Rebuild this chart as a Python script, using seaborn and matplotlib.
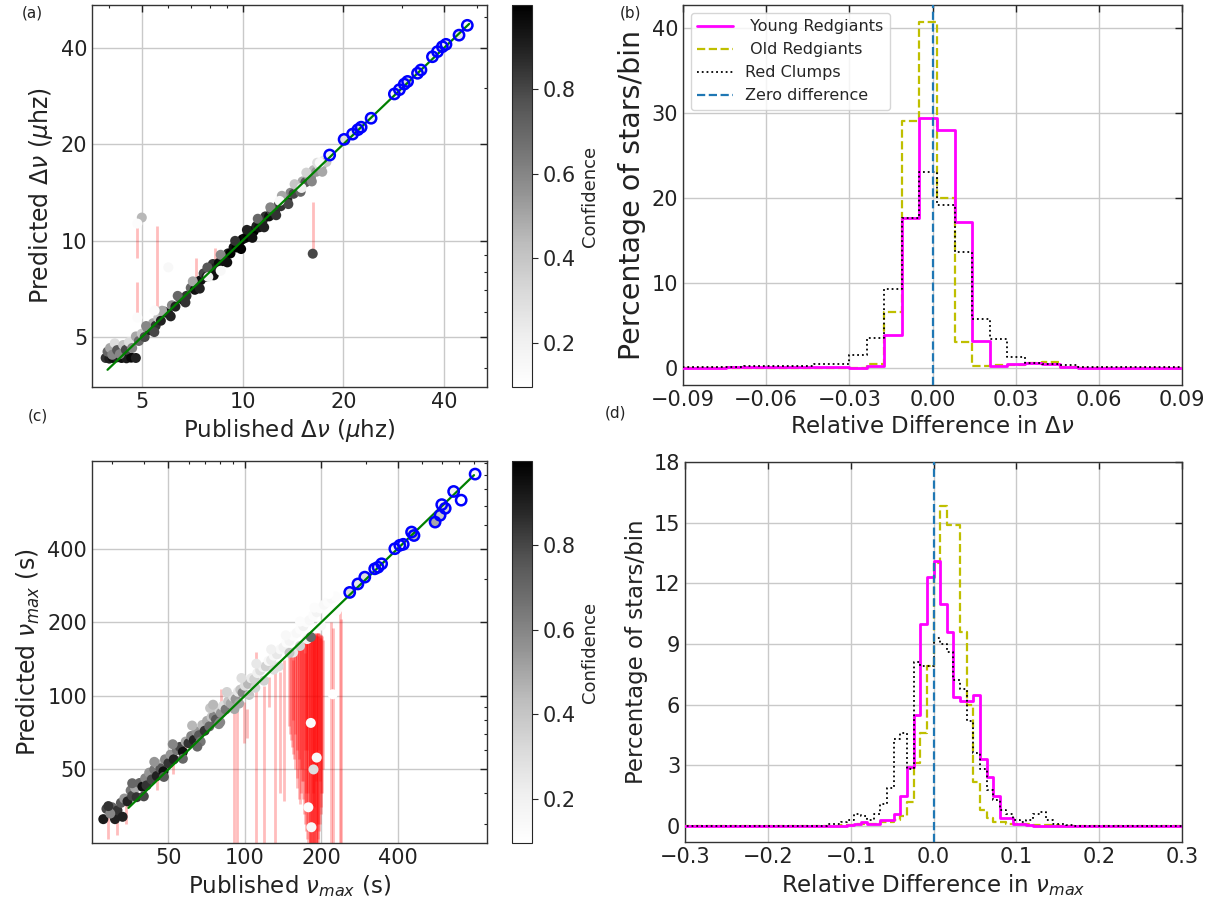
import numpy as np
import pandas as pd
import matplotlib
matplotlib.use("Agg")
import matplotlib.pyplot as plt
import matplotlib.ticker as mticker
from matplotlib.colors import Normalize
from matplotlib.cm import ScalarMappable
from matplotlib.lines import Line2D
import seaborn as sns

sns.set_style("white")
plt.rcParams['font.family'] = ['DejaVu Sans']
plt.rcParams['mathtext.fontset'] = 'dejavusans'

# ---------------- Panel (a): Delta nu ----------------
pub_dnu = [3.90, 4.00, 4.10, 4.22, 4.35, 4.50, 4.65, 4.80,
           3.95, 4.02, 4.08, 4.15, 4.22, 4.30, 4.40, 4.48, 4.58, 4.68, 4.80, 4.90, 5.00,
           5.10, 5.20, 5.30, 5.40, 5.50, 5.60, 5.70, 5.85, 6.00, 6.15, 6.30, 6.50, 6.65, 6.80,
           7.00, 7.20, 7.35, 7.50, 7.65, 7.80, 8.00, 8.15, 8.30,
           8.50, 8.70, 8.90, 9.05, 9.20, 9.40, 9.60, 9.80, 10.0, 10.2, 10.4, 10.6, 10.8, 11.0,
           11.2, 11.5, 11.7, 12.0, 12.2, 12.5, 12.8, 13.0, 13.3, 13.6, 13.9, 14.2, 14.5, 14.8,
           15.1, 15.4, 15.7, 16.0, 16.3, 16.6, 16.9, 17.2, 17.5, 17.8,
           5.15, 5.45, 5.75, 6.10, 6.40, 6.75, 7.10, 7.45, 7.85, 8.20, 8.60, 9.00, 9.50, 9.90,
           10.3, 10.7, 11.1, 11.6, 12.1, 12.6, 13.1, 13.7, 14.3, 14.9, 15.5, 16.1, 16.7, 17.3,
           8.60, 7.90, 12.9, 15.0, 17.0,
           5.00, 4.85, 6.00, 16.2, 4.85, 5.46,
           18.2, 20.1, 21.3, 22.1, 22.6, 24.2, 28.4, 29.4, 30.4, 31.1, 33.3, 34.1, 36.9, 38.2,
           39.5, 40.5, 44.3, 46.9]
pred_dnu = [4.30, 4.28, 4.30, 4.32, 4.30, 4.29, 4.31, 4.30,
            4.50, 4.62, 4.40, 4.78, 4.55, 4.42, 4.72, 4.56, 4.82, 4.62, 5.02, 4.86, 5.12,
            5.00, 5.32, 5.25, 5.52, 5.42, 5.74, 5.62, 6.00, 5.92, 6.28, 6.22, 6.62, 6.52, 6.72,
            7.12, 7.02, 7.45, 7.52, 7.90, 7.70, 8.12, 8.45, 8.22,
            8.52, 8.62, 8.92, 9.12, 9.12, 9.52, 9.52, 9.92, 10.1, 10.2, 10.3, 10.7, 10.7, 11.1,
            11.0, 11.6, 11.9, 11.9, 12.4, 12.4, 12.9, 12.8, 13.5, 13.4, 14.1, 14.0, 14.8, 14.6,
            15.3, 15.2, 16.0, 15.8, 16.6, 16.4, 17.2, 17.0, 17.8, 17.6,
            5.41, 5.18, 6.04, 5.80, 6.72, 6.41, 7.46, 7.08, 8.24, 7.79, 9.03, 8.55, 9.98, 9.41,
            10.8, 10.2, 11.7, 11.0, 12.7, 12.0, 13.8, 13.0, 15.0, 14.2, 16.3, 15.3, 17.5, 16.4,
            8.05, 7.70, 13.3, 14.6, 17.5,
            11.8, 11.3, 8.25, 9.1, 5.75, 6.05,
            18.5, 20.7, 21.5, 22.2, 22.6, 24.1, 28.7, 29.6, 30.8, 31.4, 33.3, 34.1, 37.5, 38.9,
            40.3, 41.0, 43.8, 47.0]
conf_dnu = [0.85, 0.90, 0.95, 0.90, 0.95, 0.92, 0.97, 0.90,
            0.70, 0.50, 0.60, 0.30, 0.75, 0.60, 0.40, 0.80, 0.30, 0.60, 0.50, 0.70, 0.40,
            0.80, 0.60, 0.90, 0.50, 0.85, 0.40, 0.90, 0.70, 0.95, 0.60, 0.90, 0.80, 0.95, 0.85,
            0.70, 0.95, 0.60, 0.95, 0.80, 0.90, 0.95, 0.85, 0.90,
            0.97, 0.95, 0.98, 0.90, 1.00, 0.95, 1.00, 0.95, 1.00, 0.97, 1.00, 0.95, 1.00, 0.90,
            0.95, 0.90, 0.85, 0.95, 0.80, 0.90, 0.75, 0.85, 0.70, 0.90, 0.60, 0.80, 0.60, 0.70,
            0.50, 0.75, 0.55, 0.60, 0.45, 0.55, 0.30, 0.50, 0.25, 0.40,
            0.60, 0.80, 0.50, 0.90, 0.70, 0.85, 0.50, 0.90, 0.75, 0.95, 0.60, 0.95, 0.85, 1.00,
            0.90, 0.95, 0.70, 0.90, 0.60, 0.85, 0.50, 0.80, 0.40, 0.70, 0.35, 0.60, 0.30, 0.50,
            0.15, 0.20, 0.15, 0.20, 0.15,
            0.45, 0.12, 0.15, 0.80, 0.12, 0.13,
            0.20, 0.30, 0.25, 0.20, 0.30, 0.20, 0.15, 0.25, 0.20, 0.30, 0.20, 0.25, 0.20, 0.15,
            0.30, 0.20, 0.25, 0.15]
dnu_err_x = [4.83, 4.83, 5.54, 7.25, 8.25, 16.2]
dnu_err_lo = [8.8, 5.77, 6.05, 7.6, 8.7, 9.1]
dnu_err_hi = [11.0, 7.4, 11.1, 8.8, 9.5, 13.2]
dnu_fit = [3.95, 47.5]

# ---------------- Panel (c): nu_max ----------------
pub_vmax = [27.7, 30.8, 28.5, 30.0, 31.5, 29.5, 32.5, 33.5, 34.5, 35.5, 36.0, 37.0, 37.5, 38.5,
            39.5, 40.5, 41.0, 42.0, 43.0, 44.0, 45.0, 45.5, 46.5, 47.8, 48.5, 50.0, 51.0, 52.5,
            54.0, 55.5, 57.0, 58.5, 60.0, 61.5, 63.0, 64.5, 66.0, 68.0, 69.5, 71.0, 72.5, 74.0,
            75.5, 77.0, 79.0, 80.5, 82.0, 84.0, 86.0, 88.0, 90.0, 92.0, 94.0, 96.0, 98.0, 100.0,
            103.0, 106.0, 109.0, 112.0, 115.0, 118.0, 121.0, 124.0, 127.0, 130.0, 134.0, 138.0,
            142.0, 146.0, 150.0, 155.0, 160.0, 165.0, 170.0, 175.0, 180.0, 186.0, 192.0, 198.0,
            205.0, 212.0, 220.0, 228.0,
            29, 33, 36, 40, 44, 48, 52, 57, 62, 67, 73, 79, 85, 91, 97, 104, 111, 119, 127, 136,
            145, 155, 165, 176, 188, 200, 214, 230,
            75.0, 65.0, 80.0, 95.0, 110.0, 130.0, 182.0, 150.0, 165.0,
            182.0, 192.0, 186.5, 222.0, 178.0, 183.0,
            259, 279, 297, 325, 335, 346, 390, 408, 421, 454, 464, 562, 588, 597, 616, 665, 712, 808]
pred_vmax = [31.3, 31.3, 34.5, 35.0, 34.0, 33.0, 36.5, 38.0, 37.0, 41.0, 39.0, 42.0, 38.5, 44.0,
             42.5, 46.0, 43.0, 48.5, 45.5, 50.0, 47.0, 52.5, 50.5, 49.1, 55.0, 53.0, 57.5, 55.0,
             60.0, 61.8, 59.0, 65.0, 64.0, 68.5, 66.0, 71.5, 69.0, 76.0, 72.0, 79.0, 75.0, 82.0,
             82.5, 80.0, 88.0, 85.0, 91.0, 88.0, 95.0, 93.0, 99.0, 97.0, 104.0, 106.0, 103.0, 110.0,
             112.0, 118.0, 117.0, 124.0, 127.0, 131.0, 132.0, 139.0, 140.0, 146.0, 148.0, 155.0,
             158.0, 165.0, 168.0, 176.0, 181.0, 187.0, 193.0, 200.0, 204.0, 213.0, 220.0, 228.0,
             236.0, 242.0, 250.0, 255.0,
             35.4, 32.0, 43.9, 38.8, 53.7, 46.6, 63.4, 55.3, 75.6, 65.0, 89.1, 76.6, 103.7, 88.3,
             118.3, 100.9, 135.4, 115.4, 154.9, 131.9, 176.9, 150.4, 201.3, 170.7, 229.4, 194.0,
             261.1, 223.1,
             92.0, 62.0, 78.0, 93.0, 108.0, 128.0, 174.0, 150.0, 160.0,
             77.5, 55.9, 50.0, 101.5, 35.0, 29.0,
             265, 287, 306, 331, 336, 347, 400, 413, 417, 468, 453, 514, 548, 606, 585, 686, 632, 808]
conf_vmax = [0.92, 0.90, 0.80, 0.70, 0.85, 0.60, 0.75, 0.55, 0.90, 0.65,
             0.80, 0.50, 0.85, 0.70, 0.95, 0.60, 0.85, 0.55, 0.80, 0.65,
             0.90, 0.45, 0.75, 0.95, 0.60, 0.85, 0.55, 0.90, 0.65, 0.80,
             0.95, 0.50, 0.85, 0.60, 0.90, 0.55, 0.75, 0.45, 0.85, 0.50,
             0.70, 0.40, 0.60, 0.75, 0.35, 0.55, 0.30, 0.65, 0.40, 0.50,
             0.30, 0.55, 0.25, 0.40, 0.60, 0.30, 0.45, 0.25, 0.35, 0.20,
             0.30, 0.20, 0.35, 0.15, 0.25, 0.15, 0.25, 0.15, 0.20, 0.12,
             0.18, 0.12, 0.15, 0.12, 0.20, 0.12, 0.15, 0.12, 0.18, 0.12,
             0.15, 0.12, 0.15, 0.12,
             0.85, 0.90, 0.70, 0.80, 0.55, 0.75, 0.60, 0.70, 0.45, 0.65, 0.40, 0.60, 0.35, 0.50,
             0.30, 0.40, 0.25, 0.35, 0.20, 0.30, 0.15, 0.25, 0.12, 0.20, 0.12, 0.15, 0.10, 0.12,
             0.45, 0.70, 0.60, 0.50, 0.35, 0.30, 0.70, 0.40, 0.35,
             0.12, 0.15, 0.30, 0.10, 0.12, 0.15,
             0.30, 0.25, 0.30, 0.20, 0.25, 0.20, 0.20, 0.25, 0.20, 0.30, 0.45, 0.50, 0.40, 0.20,
             0.35, 0.20, 0.10, 0.15]
vmax_err_x = [29, 31.5, 34, 45, 52, 58, 80.5, 91, 93.5, 99, 102, 111, 119, 124, 132, 137, 143,
              149, 150, 152, 153, 155, 156, 158, 160, 161, 163, 165, 166, 168, 170, 171, 173, 175,
              176, 178, 180, 181, 183, 185, 186, 188, 190, 191, 193, 195, 196, 198, 200, 202, 204,
              155, 160, 165, 170, 175, 180, 185, 190, 195, 200, 172, 178, 184, 188, 192, 197,
              158, 163, 168, 174, 177, 182, 187, 189, 194, 199, 176, 186, 191, 181, 196,
              219, 222, 237, 239]
vmax_err_lo = [26, 27, 30, 41, 48, 54, 79.6, 20, 20, 64, 67, 20, 20, 90, 20, 40, 37,
               75, 70, 66, 62, 58, 55, 50, 46, 42, 38, 36, 40, 45, 38, 33, 30, 28,
               26, 22, 20, 20, 20, 20, 20, 20, 20, 20, 22, 25, 28, 30, 33, 40, 50,
               80, 60, 50, 45, 35, 25, 25, 25, 30, 40, 60, 40, 30, 35, 30, 45,
               70, 55, 50, 40, 30, 22, 22, 28, 26, 35, 60, 40, 45, 50, 60,
               20, 20, 20, 20]
vmax_err_hi = [33, 31, 36, 48, 58, 66, 106.6, 90, 95, 94.6, 88, 151, 110, 120, 127, 125, 140,
               145, 146, 148, 149, 150, 152, 153, 155, 156, 158, 160, 161, 163, 165, 166, 168, 170,
               171, 173, 175, 176, 177, 178, 179, 180, 180, 181, 181, 180, 180, 179, 178, 175, 170,
               140, 150, 155, 160, 165, 170, 175, 178, 176, 172, 150, 165, 170, 175, 176, 172,
               150, 155, 160, 166, 170, 174, 178, 179, 180, 177, 168, 176, 178, 172, 176,
               200, 190, 223, 206]
vmax_fit = [34.8, 800.0]

# ---------------- Panel (b): histogram of relative difference in Delta nu ----------------
dnu_bin_centers = [-0.09033, -0.08399, -0.07765, -0.07131, -0.06497, -0.05863, -0.05229, -0.04595,
                   -0.03961, -0.03327, -0.02693, -0.02059, -0.01425, -0.00791, -0.00157, 0.00477,
                   0.01111, 0.01745, 0.02379, 0.03013, 0.03647, 0.04281, 0.04915, 0.05549,
                   0.06183, 0.06817, 0.07451, 0.08085, 0.08719]
dnu_young = [0, 0, 0, 0.1, 0.1, 0.1, 0.1, 0.1, 0.1, 0.1, 0, 0.2, 3.9, 17.6, 29.4, 28.0, 17.2, 3.1,
             0.2, 0.4, 0.6, 0.4, 0.1, 0, 0, 0, 0, 0, 0]
dnu_old = [0, 0, 0, 0, 0, 0, 0, 0, 0, 0, 0, 0.5, 6.6, 29.0, 40.7, 20.0, 3.0, 0.2,
           0.3, 0.3, 0.6, 0.7, 0.1, 0, 0, 0, 0, 0, 0]
dnu_clump = [0.1, 0.1, 0.1, 0.1, 0.2, 0.2, 0.2, 0.2, 0.5, 0.5, 1.5, 3.5, 9.3, 17.6, 23.1, 19.2, 13.6,
             5.7, 3.4, 1.3, 0.6, 0.5, 0.3, 0.1, 0.1, 0.1, 0.1, 0.1, 0.1]

# ---------------- Panel (d): histogram of relative difference in nu_max ----------------
vmax_bin_centers = [-0.124, -0.116, -0.108, -0.100, -0.092, -0.084, -0.076, -0.068, -0.060, -0.052,
                    -0.044, -0.036, -0.028, -0.020, -0.012, -0.004, 0.004, 0.012, 0.020, 0.028,
                    0.036, 0.044, 0.052, 0.060, 0.068, 0.076, 0.084, 0.092, 0.100, 0.108,
                    0.116, 0.124, 0.132, 0.140, 0.148, 0.156, 0.164]
vmax_young = [0, 0, 0, 0.05, 0.1, 0.2, 0.1, 0.1, 0.3, 0.3, 0.6, 1.5, 2.9, 5.5, 10.0, 12.3, 13.1, 11.0,
              9.6, 6.4, 6.2, 6.2, 6.5, 3.3, 2.4, 1.5, 0.4, 0.4, 0.1, 0.1, 0.05, 0, 0, 0, 0, 0, 0]
vmax_old = [0, 0, 0.05, 0.05, 0.1, 0.1, 0.1, 0.1, 0.2, 0.2, 0.3, 0.5, 1.2, 3.1, 4.6, 7.9, 13.0, 15.8,
            14.9, 14.9, 9.6, 6.0, 2.2, 0.8, 0.4, 0.2, 0.2, 0.1, 0.1, 0.1, 0.1, 0.05, 0.05, 0.05,
            0.05, 0, 0]
vmax_clump = [0.1, 0.1, 0.2, 0.3, 0.6, 0.5, 0.3, 0.6, 1.1, 1.9, 4.3, 4.6, 2.8, 8.1, 7.9, 7.9, 9.3, 9.0,
              8.6, 7.2, 6.8, 5.2, 3.6, 2.8, 1.8, 1.3, 0.8, 0.6, 0.3, 0.2, 0.3, 0.6, 0.7, 0.3, 0.1,
              0.1, 0.05]

legend_labels = [' Young Redgiants', ' Old Redgiants', 'Red Clumps', 'Zero difference']

# ---------------- styling ----------------
W, H = 1217, 906
fig = plt.figure(figsize=(W / 100, H / 100), dpi=100)
fig.patch.set_facecolor('white')

def px_axes(l, t, r, b):
    return fig.add_axes([l / W, 1 - b / H, (r - l) / W, (b - t) / H])

ax_a = px_axes(92, 5, 487, 387)
cax_a = px_axes(512, 5, 532, 387)
ax_b = px_axes(683, 5, 1182, 385)
ax_c = px_axes(92, 461, 487, 843)
cax_c = px_axes(512, 461, 532, 843)
ax_d = px_axes(685, 462, 1182, 842)

norm = Normalize(vmin=0.095, vmax=1.0)
TICK_FS = 15
LABEL_FS = 16.5
grid_kw = dict(color='#c9c9c9', lw=1.0)


def style_axes(ax):
    ax.set_axisbelow(True)
    ax.grid(True, which='major', **grid_kw)
    ax.tick_params(which='both', direction='in', top=True, right=True, labelsize=TICK_FS,
                   colors='#222222')
    ax.tick_params(which='major', length=5, width=1)
    ax.tick_params(which='minor', length=2.5, width=0.8)
    for s in ax.spines.values():
        s.set_color('#333333')
        s.set_linewidth(1.0)


def scatter_panel(ax, cax, pub, pred, conf, errx, errlo, errhi, fit, hi_thr, ticks, lims,
                  xlabel, ylabel):
    df = pd.DataFrame({'pub': pub, 'pred': pred, 'conf': conf})
    ax.vlines(errx, errlo, errhi, colors='red', alpha=0.26, lw=2.0, zorder=1)
    sns.scatterplot(data=df, x='pub', y='pred', hue='conf', palette='Greys', hue_norm=norm,
                    s=52, linewidth=0, legend=False, ax=ax, zorder=2)
    sns.lineplot(x=fit, y=fit, color='green', lw=1.6, ax=ax, zorder=3)
    hi = df[df['pub'] > hi_thr]
    sns.scatterplot(data=hi, x='pub', y='pred', s=55, facecolor='none', edgecolor='blue',
                    linewidth=1.8, legend=False, ax=ax, zorder=4)
    ax.set_xscale('log')
    ax.set_yscale('log')
    ax.set_xlim(*lims[0])
    ax.set_ylim(*lims[1])
    ax.set_xticks(ticks)
    ax.set_yticks(ticks)
    for axis in (ax.xaxis, ax.yaxis):
        axis.set_major_formatter(mticker.ScalarFormatter())
        axis.set_minor_formatter(mticker.NullFormatter())
    style_axes(ax)
    ax.set_xlabel(xlabel, fontsize=LABEL_FS, color='#222222')
    ax.set_ylabel(ylabel, fontsize=17, color='#222222')
    cb = fig.colorbar(ScalarMappable(norm=norm, cmap='Greys'), cax=cax)
    cb.set_ticks([0.2, 0.4, 0.6, 0.8])
    cb.ax.tick_params(labelsize=TICK_FS, length=4)
    cb.outline.set_linewidth(0.8)
    cb.set_label('Confidence', fontsize=13)


scatter_panel(ax_a, cax_a, pub_dnu, pred_dnu, conf_dnu, dnu_err_x, dnu_err_lo, dnu_err_hi,
              dnu_fit, 18.0, [5, 10, 20, 40], ((3.55, 53.7), (3.49, 54.4)),
              r'Published $\Delta\nu$ ($\mu$hz)', r'Predicted $\Delta\nu$ ($\mu$hz)')
scatter_panel(ax_c, cax_c, pub_vmax, pred_vmax, conf_vmax, vmax_err_x, vmax_err_lo, vmax_err_hi,
              vmax_fit, 250.0, [50, 100, 200, 400], ((25, 900), (25, 914)),
              r'Published $\nu_{max}$ (s)', r'Predicted $\nu_{max}$ (s)')


def hist_panel(ax, centers, young, old, clump, nbins, brange, xlim, ylim, xticks, yticks, xlabel,
               ylabel_fs, legend):
    sns.histplot(x=centers, weights=young, bins=nbins, binrange=brange, element='step',
                 fill=False, color='magenta', linewidth=2.0, ax=ax, zorder=4)
    sns.histplot(x=centers, weights=old, bins=nbins, binrange=brange, element='step',
                 fill=False, color='y', linewidth=1.6, linestyle='--', ax=ax, zorder=3)
    sns.histplot(x=centers, weights=clump, bins=nbins, binrange=brange, element='step',
                 fill=False, color='k', linewidth=1.3, linestyle=':', ax=ax, zorder=5)
    ax.axvline(0, color='tab:blue', ls='--', lw=1.6, zorder=6)
    ax.set_xlim(*xlim)
    ax.set_ylim(*ylim)
    ax.set_xticks(xticks)
    ax.set_yticks(yticks)
    style_axes(ax)
    ax.set_xlabel(xlabel, fontsize=LABEL_FS, color='#222222')
    ax.set_ylabel('Percentage of stars/bin', fontsize=ylabel_fs, color='#222222')
    if legend:
        handles = [Line2D([], [], color='magenta', lw=2.0),
                   Line2D([], [], color='y', lw=1.6, ls='--'),
                   Line2D([], [], color='k', lw=1.3, ls=':'),
                   Line2D([], [], color='tab:blue', lw=1.6, ls='--')]
        ax.legend(handles, legend_labels, loc='upper left', fontsize=11.5, handlelength=2.2,
                  frameon=True)


hist_panel(ax_b, dnu_bin_centers, dnu_young, dnu_old, dnu_clump, 29, (-0.0935, 0.09036),
           (-0.09, 0.09), (-2.03, 42.7), [-0.09, -0.06, -0.03, 0.0, 0.03, 0.06, 0.09],
           [0, 10, 20, 30, 40], r'Relative Difference in $\Delta\nu$', 20.5, True)
hist_panel(ax_d, vmax_bin_centers, vmax_young, vmax_old, vmax_clump, 76, (-0.304, 0.304),
           (-0.3, 0.3), (-0.79, 18), [-0.3, -0.2, -0.1, 0.0, 0.1, 0.2, 0.3],
           [0, 3, 6, 9, 12, 15, 18], r'Relative Difference in $\nu_{max}$', 16.5, False)

for txt, x, y in [('(a)', 22, 13), ('(b)', 620, 13), ('(c)', 28, 416), ('(d)', 605, 413)]:
    fig.text(x / W, 1 - y / H, txt, fontsize=11, va='center', ha='left', color='#222222')

fig.savefig('out.png', dpi=100, facecolor='white')
